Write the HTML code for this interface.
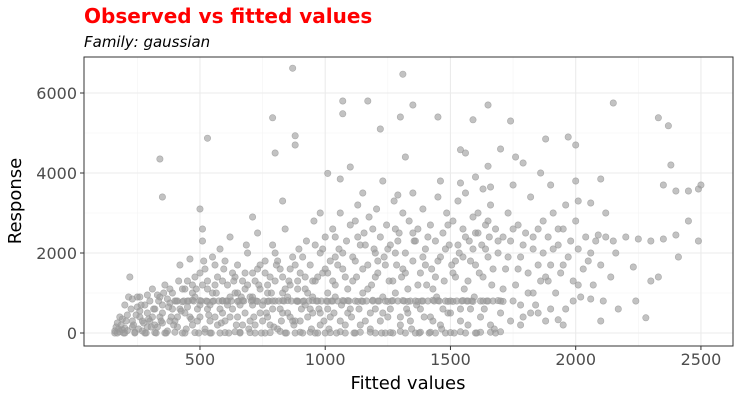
<!DOCTYPE html>
<html><head><meta charset="utf-8"><style>
body{margin:0;background:#fff;}
svg{display:block;font-family:"DejaVu Sans","Liberation Sans",sans-serif;}
</style></head><body>
<svg id="chart" width="741" height="400" viewBox="0 0 741 400">
<rect width="741" height="400" fill="#fff"/>
<text x="84" y="23" fill="#ff0000" font-size="20" font-weight="bold">Observed vs fitted values</text>
<text x="84" y="47" fill="#000" font-size="15" font-style="italic">Family: gaussian</text>
<g id="grid"></g>
<g id="pts"></g>
<rect x="84" y="57" width="649" height="289" fill="none" stroke="#333" stroke-width="1"/>
<g id="axes"></g>
<text x="408" y="389" text-anchor="middle" font-size="18" fill="#000">Fitted values</text>
<text x="0" y="0" transform="translate(21,201) rotate(-90)" text-anchor="middle" font-size="18" fill="#000">Response</text>
</svg>
<script>
const xTicks=[500,1000,1500,2000,2500];
const xMinor=[250,750,1250,1750,2250];
const yTicks=[0,2000,4000,6000];
const yMinor=[1000,3000,5000];
const fitted=[
160,165,170,175,180,185,190,195,200,205,
210,215,220,225,230,235,240,245,250,255,
260,265,270,275,280,285,290,295,300,305,
310,315,320,325,330,335,340,345,350,355,
360,365,370,375,380,385,390,395,400,405,
410,415,420,425,430,435,440,445,450,455,
460,465,470,475,480,485,490,495,500,505,
510,515,520,525,530,535,540,545,550,555,
560,565,570,575,580,585,590,595,600,605,
610,615,620,625,630,635,640,645,650,655,
660,665,670,675,680,685,690,695,700,705,
710,715,720,725,730,735,740,745,750,755,
760,765,770,775,780,785,790,795,800,805,
810,815,820,825,830,835,840,845,850,855,
860,865,870,875,880,885,890,895,900,905,
910,915,920,925,930,935,940,945,950,955,
960,965,970,975,980,985,990,995,1000,1005,
1010,1015,1020,1025,1030,1035,1040,1045,1050,1055,
1060,1065,1070,1075,1080,1085,1090,1095,1100,1105,
1110,1115,1120,1125,1130,1135,1140,1145,1150,1155,
1160,1165,1170,1175,1180,1185,1190,1195,1200,1205,
1210,1215,1220,1225,1230,1235,1240,1245,1250,1255,
1260,1265,1270,1275,1280,1285,1290,1295,1300,1305,
1310,1315,1320,1325,1330,1335,1340,1345,1350,1355,
1360,1365,1370,1375,1380,1385,1390,1395,1400,1405,
1410,1415,1420,1425,1430,1435,1440,1445,1450,1455,
1460,1465,1470,1475,1480,1485,1490,1495,1500,1505,
1510,1515,1520,1525,1530,1535,1540,1545,1550,1555,
1560,1565,1570,1575,1580,1585,1590,1595,1600,1605,
1610,1615,1620,1625,1630,1635,1640,1645,1650,1655,
1660,1665,1670,1675,1680,1690,1700,1710,1720,1730,
1740,1750,1760,1770,1780,1790,1800,1810,1820,1830,
1840,1850,1860,1870,1880,1890,1900,1910,1920,1930,
1940,1950,1960,1970,1980,1990,2000,2010,2020,2030,
2040,2050,2060,2070,2080,2100,2110,2120,2140,2160,
520,580,640,700,760,820,880,940,1000,1060,
1120,1180,1240,1300,1360,1420,1480,1540,1600,1660,
430,470,530,590,650,710,770,830,890,950,
1010,1070,1130,1190,1250,1310,1370,1430,1490,1550,
180,200,230,260,290,320,350,380,410,440,
470,500,530,560,590,620,650,680,710,740,
770,800,830,860,890,920,950,980,1010,1040,
870,1310,1070,1170,1350,1650,2150,790,1300,1450,
1590,1740,2330,2370,1070,340,530,350,800,880,
880,1220,1320,1880,1970,2000,1540,1700,2380,1010,
1100,1560,1760,1650,1790,1230,1060,1860,2000,2100,
2400,2350,2490,2500,2450,1460,1540,1600,1660,1750,
1900,1960,2010,2060,2120,1350,1290,1150,980,830,
710,500,510,2150,2200,2250,2300,2350,2400,2450,
2490,2230,2330,2300,2410,2240,2280,2170,2100,2090,
2060,1990,1930,1900,1880,1950,2010,1850,1780,1830,
170,190,210,230,250,270,290,310,330,350,
370,390,410,430,450,470,490,510,530,550,
570,590,610,630,650,670,690,710,730,750,
770,790,810,830,850,870,890,910,930,950,
970,990,1010,1030,1050,1070,1090,1110,1130,1150,
1170,1190,1210,1230,1250,1270,1290,1310,1330,1350,
1370,1390,1410,1430,1450,1470,1490,1510,1530,1550,
1570,1590,1610,1630,1650,1670,1690,1710,1730,1750,
1770,1790,1810,1830,1850,1870,1890,1910,1930,1950,
160,200,240,280,320,360,400,440,480,540,
600,660,720,780,840,900,960,1020,1080,1140,
1200,1260,1320,1380,1440,1500,1560,1620,1680,1700,
400,450,500,550,610,670,730,790,850,910,
970,1030,1090,1150,1210,1270,1330,1390,1450,1510,
1570,1630,1690,1590,1650,1710,1040,1120,1200,1280,
260,300,340,380,420,460,500,540,580,620,
660,700,740,780,820,860,900,940,980,1020,
1060,1100,1140,1180,1220,1260,1300,1340,1380,1420,
1460,1500,1540,1580,1620,1660,1700,1740,1780,1820,
480,520,560,600,640,680,720,760,800,840,
880,920,960,1000,1040,1080,1120,1160,1200,1240,
1280,1320,1360,1400,1440,1480,1520,1560,1600,1640
];
const response=[
50,150,0,100,30,200,80,0,120,300,
60,900,1400,600,850,200,0,450,900,100,
400,700,50,250,700,0,950,350,300,150,
1100,600,600,0,150,800,900,300,500,1000,
1200,0,50,650,750,400,1000,200,300,800,
800,1300,1700,550,0,800,500,100,1300,800,
1850,350,200,800,900,1100,600,0,1500,800,
2300,1800,100,800,1100,450,700,0,1900,800,
400,1000,1400,800,2100,250,800,1600,300,800,
1200,0,2400,800,600,1300,1000,200,1700,800,
0,900,1300,800,500,2200,2000,100,900,800,
1500,400,200,800,2500,1200,1100,0,700,800,
1800,500,400,800,1400,1000,2200,150,800,1700,
100,800,1600,300,1000,800,2600,0,500,1300,
1200,800,1900,200,300,800,800,2100,1500,600,
0,800,1100,2300,400,800,1700,100,900,2800,
1300,800,0,600,2000,800,1500,300,2400,800,
1000,100,1800,800,2600,500,1200,0,800,2100,
3000,700,1600,800,200,2300,1100,800,2700,400,
1900,0,800,1400,3200,600,2200,800,1000,2500,
300,800,1700,2900,100,1200,800,2100,600,3100,
1500,800,2400,0,900,1900,800,2700,400,1300,
2200,800,0,3300,1000,1700,800,2500,200,1400,
3000,800,2000,600,1100,2800,800,100,1800,2300,
800,700,2600,0,1500,800,3100,400,2100,1200,
800,0,2700,1600,300,800,2300,900,3400,800,
1900,100,2500,1300,800,3000,500,2200,800,1700,
2800,0,1400,800,3300,2000,600,800,2600,1100,
3500,800,200,2300,1800,800,2900,900,2500,0,
3000,1500,800,2200,3600,600,2700,800,1900,2400,
3200,1200,800,100,2600,2000,800,2400,1600,3000,
2300,800,1200,2700,1900,400,2500,1500,3400,2100,
700,2600,1300,2000,300,2400,1700,3000,1000,2200,
1500,2600,600,1900,2300,1300,2800,2100,900,1600,
2400,1800,2000,1200,2300,1700,800,2400,1400,2000,
20,0,30,10,0,40,0,20,0,30,
0,20,0,40,0,20,0,30,0,20,
780,820,790,810,790,820,790,810,790,810,
790,810,790,820,790,810,790,820,790,810,
400,700,300,900,500,200,700,1100,400,1100,
1200,400,1300,1700,500,900,400,1500,700,1700,
1000,1300,500,1600,1100,700,1300,500,1500,900,
6620,6470,5800,5800,5700,5700,5750,5380,5400,5400,
5330,5300,5380,5180,5480,4350,4870,3400,4500,4930,
4700,5100,4400,4850,4900,4700,4580,4600,4200,3990,
4150,4500,4400,4170,4250,3800,3850,4000,3800,3850,
3550,3700,3600,3700,3550,3800,3750,3900,3650,3700,
3700,3200,3300,3250,3000,3500,3450,3500,3000,3300,
2900,3100,2600,2300,2400,2350,2300,2350,2450,2800,
2300,1650,1400,1300,1900,800,380,600,300,2450,
850,800,330,600,1400,200,1200,500,200,1000,
250,350,450,150,650,300,150,400,950,250,
850,600,150,1100,650,1000,300,1200,600,1000,
200,1300,700,1500,1000,200,1200,900,1600,300,
1200,600,1800,1400,900,300,1300,1900,1000,500,
1400,2100,600,1300,1700,2000,500,1300,2400,1600,
1100,2600,1800,500,2100,1300,2300,1600,500,2500,
1200,1900,2400,1100,1800,600,2700,1500,2200,1900,
1300,2100,2500,1400,2800,1600,2300,1100,1900,2600,
1600,2200,1000,2400,1700,2800,1300,2100,2600,1700,
0,0,20,0,10,0,20,0,10,0,
10,20,0,10,0,20,0,10,0,20,
0,10,0,20,0,10,0,20,0,30,
800,800,810,790,800,810,790,800,810,790,
800,800,810,790,800,810,790,800,810,790,
800,800,810,790,800,790,1900,2800,2000,2600,
550,800,400,300,600,400,700,300,600,400,
700,300,500,200,600,400,300,600,200,400,
300,600,200,500,300,600,400,300,600,400,
200,500,300,600,400,200,500,300,700,500,
1400,1600,1200,1800,1400,1100,1300,1500,2000,1100,
1700,1400,2200,1600,2400,1400,1800,2200,1400,1700,
2000,1500,2300,1700,1400,2100,1800,2400,1700,2100
];
const NS='http://www.w3.org/2000/svg';
const X0=84,X1=733,Y0=57,Y1=346;
const xMin=37,xMax=2628,yMin=-325,yMax=6900;
function sx(v){return X0+(v-xMin)/(xMax-xMin)*(X1-X0);}
function sy(v){return Y1-(v-yMin)/(yMax-yMin)*(Y1-Y0);}
function mk(tag,attrs,parent){const e=document.createElementNS(NS,tag);for(const k in attrs)e.setAttribute(k,attrs[k]);parent.appendChild(e);return e;}
const grid=document.getElementById('grid'),axes=document.getElementById('axes'),pts=document.getElementById('pts');
mk('rect',{x:X0,y:Y0,width:X1-X0,height:Y1-Y0,fill:'#fff'},grid);
xMinor.forEach(v=>{const l=mk('line',{x1:sx(v),x2:sx(v),y1:Y0,y2:Y1,stroke:'#f4f4f4','stroke-width':0.6},grid);

});
yMinor.forEach(v=>{const l=mk('line',{x1:X0,x2:X1,y1:sy(v),y2:sy(v),stroke:'#f4f4f4','stroke-width':0.6},grid);

});
xTicks.forEach(v=>{const l=mk('line',{x1:sx(v),x2:sx(v),y1:Y0,y2:Y1,stroke:'#ebebeb','stroke-width':1.1},grid);


const t=mk('line',{x1:sx(v),x2:sx(v),y1:Y1,y2:Y1+4,stroke:'#333','stroke-width':1},axes);


const tx=mk('text',{x:sx(v),y:Y1+19,'text-anchor':'middle','font-size':16,fill:'#4d4d4d'},axes);tx.textContent=v;

});
yTicks.forEach(v=>{const l=mk('line',{x1:X0,x2:X1,y1:sy(v),y2:sy(v),stroke:'#ebebeb','stroke-width':1.1},grid);


const t=mk('line',{x1:X0-4,x2:X0,y1:sy(v),y2:sy(v),stroke:'#333','stroke-width':1},axes);


const tx=mk('text',{x:X0-7,y:sy(v)+6,'text-anchor':'end','font-size':16,fill:'#4d4d4d'},axes);tx.textContent=v;

});
for(let i=0;i<fitted.length;i++){
const c=mk('circle',{cx:sx(fitted[i]),cy:sy(response[i]),r:3.2,fill:'#999','fill-opacity':0.6,stroke:'#999','stroke-opacity':0.75,'stroke-width':0.6},pts);


}
</script>
</body></html>
